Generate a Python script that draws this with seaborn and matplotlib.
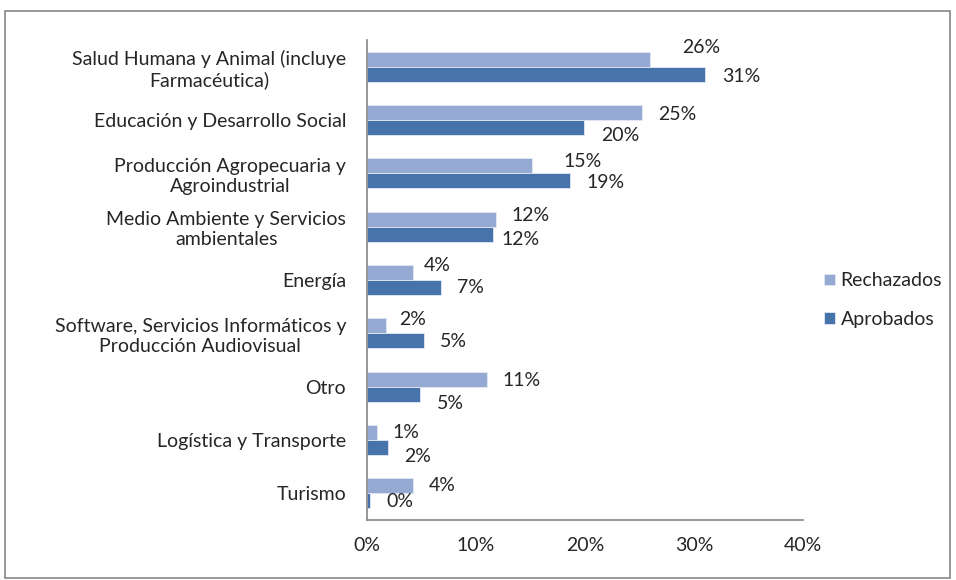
import numpy as np
import seaborn as sns
import pandas as pd
import matplotlib.pyplot as plt
from matplotlib.patches import Rectangle
from matplotlib.ticker import FuncFormatter

# data (percent)
categorias = [
    'Salud Humana y Animal (incluye\nFarmacéutica)',
    'Educación y Desarrollo Social',
    'Producción Agropecuaria y\nAgroindustrial',
    'Medio Ambiente y Servicios\nambientales',
    'Energía',
    'Software, Servicios Informáticos y\nProducción Audiovisual',
    'Otro',
    'Logística y Transporte',
    'Turismo',
]
rechazados = [26.0, 25.2, 15.1, 11.8, 4.2, 1.7, 11.0, 0.9, 4.2]
aprobados = [31.0, 19.9, 18.6, 11.6, 6.8, 5.2, 4.9, 1.9, 0.3]
series = ['Rechazados', 'Aprobados']
x_ticks = [0, 10, 20, 30, 40]

df = pd.DataFrame({
    'categoria': categorias * 2,
    'valor': rechazados + aprobados,
    'serie': ['Rechazados'] * len(categorias) + ['Aprobados'] * len(categorias),
})

# label nudges in pixels (dx, dy; dy positive = down), as placed in the original
nudge_rech = [(32, -12), (16, 2), (32, -4), (16, -4), (11, -7), (14, -6), (16, 1), (16, 0), (16, 0)]
nudge_aprob = [(17, 2), (17, 8), (17, 2), (8, 5), (16, 0), (16, 1), (17, 9), (16, 9), (16, 1)]

sns.set_style('white')
plt.rcParams['font.family'] = ['Lato', 'DejaVu Sans']
fs = 14

fig = plt.figure(figsize=(9.56, 5.8), dpi=100)
ax = fig.add_axes([367 / 956, 1 - 520 / 580, 436 / 956, 480 / 580])

sns.barplot(data=df, x='valor', y='categoria', hue='serie', hue_order=series,
            palette=['#95AAD3', '#4674AA'], saturation=1, orient='h', width=0.56,
            edgecolor='#e3e9f4', linewidth=0.6, ax=ax)

ax.set_xlim(0, 40)
ax.set_ylim(len(categorias) - 0.5, -0.5)
ax.set_xticks(x_ticks)
ax.xaxis.set_major_formatter(FuncFormatter(lambda v, p: f'{v:.0f}%'))
ax.set_xlabel('')
ax.set_ylabel('')

# category ticks at the boundaries, like the spreadsheet chart
ax.set_yticks(range(len(categorias)))
ax.set_yticklabels(categorias, multialignment='center', fontsize=fs)
ax.set_yticks(np.arange(-0.5, len(categorias), 1), minor=True)
ax.tick_params(axis='y', which='major', length=0, pad=15)
ax.tick_params(axis='y', which='minor', length=5, color='#868686', width=1)
ax.tick_params(axis='x', length=5, color='#868686', width=1, pad=7, labelsize=fs)

for side in ['top', 'right']:
    ax.spines[side].set_visible(False)
for side in ['left', 'bottom']:
    ax.spines[side].set_color('#868686')
    ax.spines[side].set_linewidth(1.2)

# value labels
px = 0.72
for cont, nudges in zip(ax.containers, [nudge_rech, nudge_aprob]):
    for bar, (dx, dy) in zip(cont, nudges):
        w = bar.get_width()
        yc = bar.get_y() + bar.get_height() / 2
        ax.annotate(f'{w:.0f}%', (w, yc), xytext=(dx * px, -dy * px),
                    textcoords='offset points', ha='left', va='center', fontsize=fs)

handles, labels = ax.get_legend_handles_labels()
ax.legend(handles, labels, loc='center left', bbox_to_anchor=(1.048, 0.458),
          frameon=False, borderpad=0, borderaxespad=0,
          handlelength=0.55, handleheight=0.55, handletextpad=0.3,
          labelspacing=1.1, fontsize=fs)

# chart border
fig.patches.append(Rectangle((5 / 956, 2 / 580), 945 / 956, 567 / 580, transform=fig.transFigure,
                             fill=False, edgecolor='#868686', linewidth=1.2))

plt.savefig('out.png', dpi=100)
